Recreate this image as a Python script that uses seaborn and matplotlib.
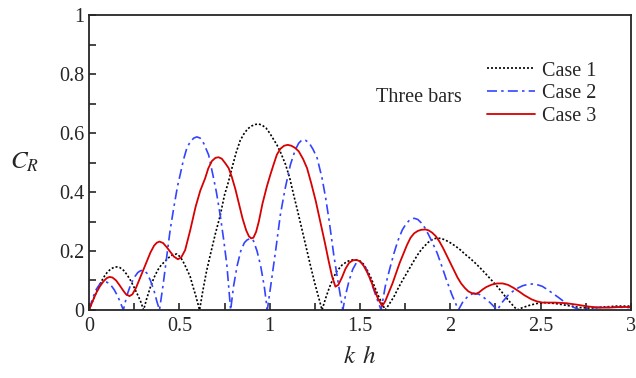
import numpy as np
import matplotlib
matplotlib.use('Agg')
import matplotlib.pyplot as plt
from matplotlib.ticker import MultipleLocator
import seaborn as sns

# Reflection coefficient C_R vs kh, three bars
case1_x = [0, 0.02, 0.04, 0.06, 0.08, 0.10, 0.12, 0.14, 0.154, 0.17, 0.19, 0.21, 0.23, 0.25,
           0.27, 0.285, 0.302, 0.32, 0.34, 0.36, 0.38, 0.40, 0.421, 0.44, 0.46, 0.486, 0.505,
           0.52, 0.54, 0.56, 0.575, 0.59, 0.612, 0.63, 0.65, 0.671, 0.70, 0.726, 0.75, 0.772,
           0.791, 0.815, 0.837, 0.86, 0.88, 0.90, 0.92, 0.939, 0.96, 0.98, 1.00, 1.02, 1.04,
           1.06, 1.087, 1.11, 1.133, 1.155, 1.18, 1.205, 1.226, 1.25, 1.27, 1.29, 1.31, 1.33,
           1.35, 1.37, 1.40, 1.43, 1.46, 1.475, 1.50, 1.52, 1.54, 1.56, 1.58, 1.60, 1.62, 1.64,
           1.66, 1.688, 1.71, 1.735, 1.76, 1.78, 1.80, 1.82, 1.84, 1.855, 1.875, 1.89, 1.905,
           1.92, 1.946, 1.97, 2.00, 2.03, 2.057, 2.08, 2.11, 2.14, 2.168, 2.20, 2.23, 2.255,
           2.28, 2.305, 2.33, 2.35, 2.37, 2.40, 2.44, 2.48, 2.52, 2.58, 2.65, 2.72, 2.78, 2.85,
           2.92, 3.0]
case1_y = [0, 0.03, 0.06, 0.087, 0.11, 0.127, 0.139, 0.145, 0.146, 0.144, 0.135, 0.12, 0.10,
           0.076, 0.05, 0.03, 0.0, 0.04, 0.078, 0.11, 0.135, 0.153, 0.165, 0.177, 0.186, 0.19,
           0.18, 0.165, 0.14, 0.113, 0.08, 0.05, 0.0, 0.065, 0.13, 0.186, 0.26, 0.32, 0.39,
           0.435, 0.481, 0.535, 0.575, 0.60, 0.615, 0.624, 0.629, 0.631, 0.626, 0.617, 0.60,
           0.58, 0.56, 0.535, 0.495, 0.45, 0.39, 0.335, 0.27, 0.205, 0.15, 0.09, 0.045, 0.0,
           0.04, 0.075, 0.105, 0.13, 0.152, 0.165, 0.17, 0.17, 0.166, 0.155, 0.135, 0.11, 0.08,
           0.05, 0.025, 0.0, 0.018, 0.045, 0.072, 0.10, 0.126, 0.147, 0.168, 0.188, 0.205,
           0.215, 0.228, 0.235, 0.24, 0.243, 0.243, 0.238, 0.228, 0.216, 0.203, 0.19, 0.175,
           0.158, 0.141, 0.12, 0.10, 0.083, 0.065, 0.045, 0.027, 0.013, 0.0, 0.008, 0.016,
           0.022, 0.025, 0.022, 0.015, 0.008, 0.006, 0.01, 0.013, 0.013]

case2_x = [0, 0.02, 0.04, 0.06, 0.08, 0.10, 0.12, 0.14, 0.16, 0.19, 0.21, 0.23, 0.25, 0.27,
           0.285, 0.301, 0.32, 0.34, 0.36, 0.375, 0.39, 0.41, 0.43, 0.449, 0.47, 0.49, 0.505,
           0.523, 0.542, 0.56, 0.58, 0.597, 0.615, 0.635, 0.662, 0.685, 0.705, 0.726, 0.745,
           0.763, 0.784, 0.80, 0.82, 0.84, 0.86, 0.874, 0.893, 0.91, 0.93, 0.95, 0.97, 0.987,
           1.01, 1.035, 1.059, 1.085, 1.115, 1.14, 1.16, 1.179, 1.20, 1.22, 1.24, 1.263, 1.29,
           1.31, 1.33, 1.355, 1.38, 1.405, 1.42, 1.44, 1.46, 1.48, 1.495, 1.51, 1.53, 1.55,
           1.57, 1.59, 1.617, 1.64, 1.665, 1.688, 1.71, 1.734, 1.755, 1.775, 1.80, 1.82, 1.84,
           1.86, 1.88, 1.90, 1.928, 1.955, 1.98, 2.01, 2.045, 2.07, 2.10, 2.13, 2.16, 2.19,
           2.22, 2.26, 2.29, 2.32, 2.36, 2.40, 2.43, 2.455, 2.48, 2.51, 2.54, 2.57, 2.60, 2.63,
           2.67, 2.72, 2.76, 2.82, 2.90, 3.0]
case2_y = [0, 0.04, 0.07, 0.088, 0.095, 0.094, 0.085, 0.068, 0.045, 0.0, 0.05, 0.085, 0.11,
           0.127, 0.133, 0.135, 0.125, 0.10, 0.065, 0.03, 0.0, 0.085, 0.18, 0.271, 0.35, 0.42,
           0.46, 0.51, 0.55, 0.57, 0.583, 0.587, 0.583, 0.565, 0.526, 0.46, 0.40, 0.322, 0.24,
           0.153, 0.0, 0.08, 0.15, 0.20, 0.228, 0.237, 0.243, 0.235, 0.20, 0.15, 0.08, 0.0,
           0.10, 0.21, 0.322, 0.41, 0.493, 0.54, 0.565, 0.577, 0.575, 0.565, 0.545, 0.515,
           0.447, 0.38, 0.30, 0.186, 0.09, 0.0, 0.05, 0.10, 0.138, 0.16, 0.164, 0.16, 0.145,
           0.115, 0.08, 0.045, 0.0, 0.08, 0.14, 0.192, 0.235, 0.271, 0.292, 0.305, 0.311,
           0.307, 0.295, 0.278, 0.255, 0.23, 0.192, 0.145, 0.10, 0.05, 0.0, 0.028, 0.048,
           0.057, 0.053, 0.04, 0.025, 0.0, 0.028, 0.05, 0.07, 0.082, 0.087, 0.088, 0.086, 0.08,
           0.068, 0.055, 0.042, 0.028, 0.012, 0.0, 0.006, 0.009, 0.01, 0.008]

case3_x = [0, 0.02, 0.04, 0.06, 0.08, 0.098, 0.113, 0.13, 0.15, 0.17, 0.19, 0.205, 0.224,
           0.24, 0.26, 0.28, 0.301, 0.32, 0.34, 0.36, 0.375, 0.39, 0.41, 0.43, 0.449, 0.47,
           0.492, 0.51, 0.532, 0.56, 0.59, 0.616, 0.643, 0.66, 0.68, 0.70, 0.717, 0.735, 0.755,
           0.773, 0.79, 0.81, 0.83, 0.85, 0.87, 0.885, 0.897, 0.91, 0.925, 0.94, 0.96, 0.985,
           1.004, 1.02, 1.04, 1.06, 1.08, 1.10, 1.12, 1.14, 1.161, 1.185, 1.207, 1.23, 1.255,
           1.28, 1.305, 1.327, 1.345, 1.364, 1.38, 1.40, 1.42, 1.44, 1.46, 1.48, 1.50, 1.52,
           1.54, 1.56, 1.58, 1.60, 1.623, 1.64, 1.66, 1.68, 1.70, 1.72, 1.74, 1.76, 1.78, 1.80,
           1.82, 1.84, 1.863, 1.88, 1.90, 1.92, 1.94, 1.96, 1.98, 2.00, 2.02, 2.04, 2.06, 2.08,
           2.10, 2.12, 2.14, 2.16, 2.18, 2.20, 2.23, 2.26, 2.29, 2.32, 2.35, 2.38, 2.41, 2.45,
           2.48, 2.51, 2.58, 2.64, 2.70, 2.76, 2.82, 2.88, 2.94, 3.0]
case3_y = [0, 0.03, 0.058, 0.08, 0.097, 0.108, 0.112, 0.11, 0.10, 0.083, 0.065, 0.053, 0.047,
           0.053, 0.075, 0.105, 0.136, 0.165, 0.195, 0.218, 0.228, 0.232, 0.227, 0.213, 0.198,
           0.181, 0.172, 0.178, 0.203, 0.27, 0.35, 0.405, 0.447, 0.48, 0.505, 0.516, 0.518,
           0.513, 0.497, 0.481, 0.452, 0.41, 0.36, 0.31, 0.27, 0.25, 0.243, 0.245, 0.265, 0.30,
           0.36, 0.42, 0.459, 0.49, 0.527, 0.547, 0.557, 0.56, 0.557, 0.55, 0.538, 0.512, 0.481,
           0.43, 0.37, 0.30, 0.23, 0.165, 0.115, 0.079, 0.085, 0.11, 0.14, 0.16, 0.168, 0.17,
           0.165, 0.15, 0.128, 0.10, 0.068, 0.038, 0.013, 0.03, 0.06, 0.09, 0.125, 0.16, 0.19,
           0.22, 0.245, 0.26, 0.268, 0.272, 0.273, 0.27, 0.262, 0.25, 0.232, 0.21, 0.185, 0.16,
           0.135, 0.11, 0.09, 0.075, 0.063, 0.057, 0.054, 0.06, 0.07, 0.078, 0.086, 0.09, 0.09,
           0.085, 0.075, 0.063, 0.05, 0.036, 0.029, 0.025, 0.025, 0.023, 0.018, 0.012, 0.008,
           0.008, 0.01, 0.01]

sns.set_style('ticks')
plt.rcParams['font.family'] = ['Liberation Serif', 'DejaVu Serif']
plt.rcParams['mathtext.fontset'] = 'stix'

fig = plt.figure(figsize=(6.36, 3.78), dpi=100)
ax = fig.add_axes([0.140, 0.180, 0.852, 0.780])

sns.lineplot(x=case1_x, y=case1_y, ax=ax, color='black', lw=1.2,
             linestyle=(0, (1.2, 1.2)), label='Case 1')
sns.lineplot(x=case2_x, y=case2_y, ax=ax, color='#3344ff', lw=1.2,
             linestyle=(0, (6, 2.5, 1.5, 2.5)), label='Case 2')
sns.lineplot(x=case3_x, y=case3_y, ax=ax, color='#d80000', lw=1.3,
             linestyle='-', label='Case 3')

ax.set_xlim(0, 3)
ax.set_ylim(0, 1)
ax.set_xticks([0, 0.5, 1, 1.5, 2, 2.5, 3])
ax.set_xticklabels(['0', '0.5', '1', '1.5', '2', '2.5', '3'], fontsize=14.5)
ax.set_yticks([0, 0.2, 0.4, 0.6, 0.8, 1.0])
ax.set_yticklabels(['0', '0.2', '0.4', '0.6', '0.8', '1'], fontsize=14.5)
ax.xaxis.set_minor_locator(MultipleLocator(0.25))
ax.yaxis.set_minor_locator(MultipleLocator(0.1))
ax.tick_params(which='both', direction='in', length=5, width=1.2)
ax.tick_params(axis='x', pad=5)
for s in ax.spines.values():
    s.set_linewidth(1.3)

ax.set_xlabel('$k\\;\\,h$', fontsize=18, labelpad=7)
ax.set_ylabel('$C_R$', fontsize=18, rotation=0)
ax.yaxis.set_label_coords(-0.12, 0.46)

ax.text(0.53, 0.722, 'Three bars', transform=ax.transAxes, fontsize=14.5, va='center')
ax.legend(frameon=False, loc='upper left', bbox_to_anchor=(0.734, 0.843),
          borderaxespad=0, borderpad=0, handlelength=2.4, handletextpad=0.35,
          labelspacing=0.18, fontsize=14.5)

plt.savefig('out.png', dpi=100)
